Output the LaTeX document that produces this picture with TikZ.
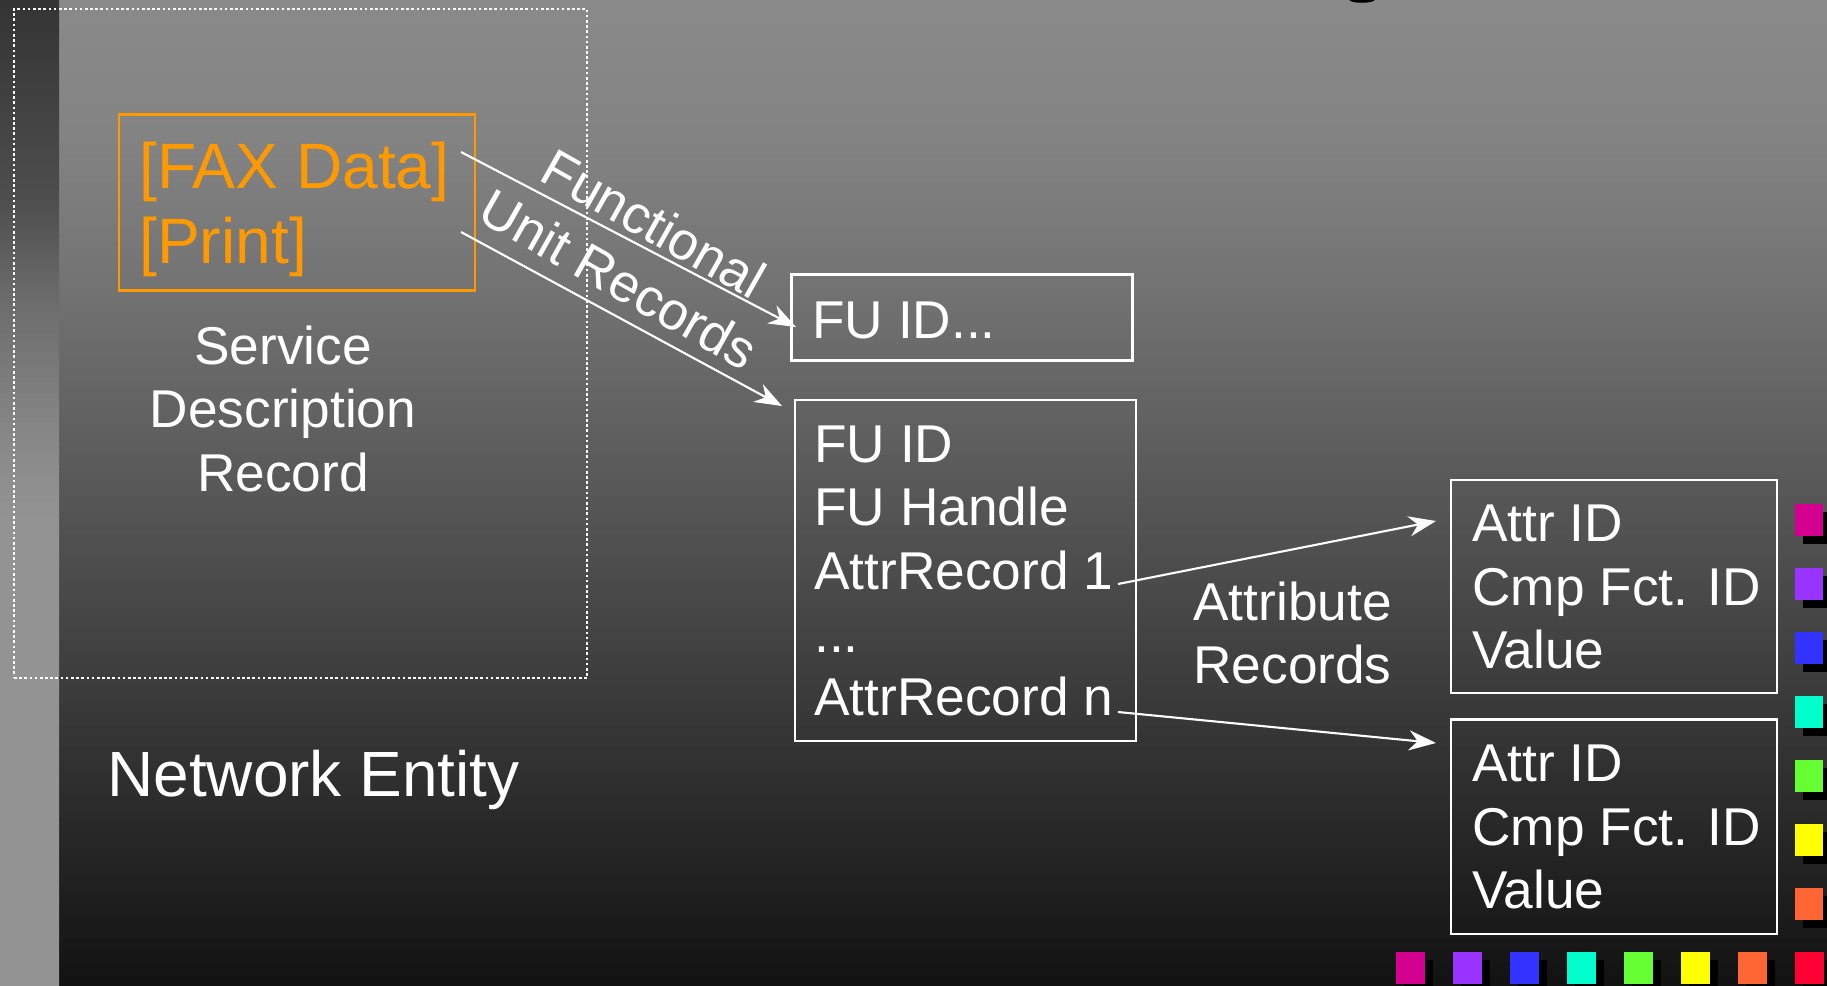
\documentclass[tikz,border=0pt]{standalone}
\usepackage{fontspec}
\setmainfont{Liberation Sans}
\usetikzlibrary{arrows.meta,fit}
\definecolor{mA}{RGB}{138,138,138}
\definecolor{mB}{RGB}{130,130,130}
\definecolor{mC}{RGB}{113,113,113}
\definecolor{mD}{RGB}{93,93,93}
\definecolor{mE}{RGB}{72,72,72}
\definecolor{mF}{RGB}{18,18,18}
\definecolor{lA}{RGB}{52,52,52}
\definecolor{lB}{RGB}{78,78,78}
\definecolor{lC}{RGB}{108,108,108}
\definecolor{lE}{RGB}{138,138,138}
\definecolor{lD}{RGB}{147,147,147}
\definecolor{orangec}{HTML}{FF9900}
\definecolor{sqA}{HTML}{D4008F}
\definecolor{sqB}{HTML}{9933FF}
\definecolor{sqC}{HTML}{3333FF}
\definecolor{sqD}{HTML}{00FFCC}
\definecolor{sqE}{HTML}{66FF33}
\definecolor{sqF}{HTML}{FFFF00}
\definecolor{sqG}{HTML}{FF6633}
\definecolor{sqH}{HTML}{FF0033}
\pgfdeclareverticalshading{mainbg}{100bp}{color(0bp)=(mF); color(25bp)=(mF); color(44.54bp)=(mE); color(52.16bp)=(mD); color(59.77bp)=(mC); color(67.39bp)=(mB); color(75bp)=(mA); color(100bp)=(mA)}
\pgfdeclareverticalshading{leftbg}{100bp}{color(0bp)=(lD); color(48.6bp)=(lD); color(52.16bp)=(lE); color(59.77bp)=(lC); color(64.85bp)=(lB); color(75bp)=(lA); color(100bp)=(lA)}
\newcommand\fsn{\fontsize{30.3pt}{36pt}\selectfont}
\newcommand\fso{\fontsize{36.5pt}{42.9pt}\selectfont}
\newcommand\fsbig{\fontsize{36.4pt}{43pt}\selectfont}
\begin{document}
\begin{tikzpicture}[x=0.02cm,y=-0.02cm,
  txt/.style={text=white, inner sep=0pt, font=\fsn},
  box/.style={draw=white, line width=1.2pt, inner sep=0pt},
  arr/.style={draw=white, line width=1.2pt, -{Stealth[length=15.5pt,width=11.5pt]}},
  dotbox/.style={draw=white, line width=1.3pt, dash pattern=on 1.5pt off 1.45pt, inner sep=0pt}]
\clip (0,0) rectangle (1827,985);
\shade[shading=mainbg] (59,0) rectangle (1827,985);
\shade[shading=leftbg] (0,0) rectangle (59,985);
\fill[black] (1362,0) ellipse [x radius=0.25cm, y radius=0.055cm];

% network entity frame
\node[dotbox, fit={(14,9) (587,678)}] (ne) {};
% boxes
\node[draw=orangec, line width=1.2pt, inner sep=0pt, fit={(119,114.5) (475,290.5)}] (sdrbox) {};
\node[box, fit={(791.5,274.5) (1132.5,360.5)}] (fu1) {};
\node[box, fit={(795,400) (1136,741)}] (fu2) {};
\node[box, fit={(1451,480) (1777,693)}] (at1) {};
\node[box, fit={(1451,719.5) (1777,934)}] (at2) {};

% texts
\node[txt, font=\fso, text=orangec, anchor=base west] (fax) at (139,188.3)
  {\begin{tabular}[t]{@{}l@{}}[FAX Data]\\{[Print]}\end{tabular}};
\node[txt, anchor=base] (sdr) at (283,364.5)
  {\begin{tabular}[t]{@{}c@{}}Service\\Description\\Record\end{tabular}};
\node[txt, anchor=base west] (fu1t) at (812,338.3) {FU ID...};
\node[txt, anchor=base west] (fu2t) at (814,462.5)
  {\begin{tabular}[t]{@{}l@{}}FU ID\\FU Handle\\AttrRecord 1\\...\\AttrRecord n\end{tabular}};
\node[txt, anchor=base west] (at1t) at (1472,541.8)
  {\begin{tabular}[t]{@{}l@{}}Attr ID\\Cmp Fct. ID\\Value\end{tabular}};
\node[txt, anchor=base west] (at2t) at (1472,781.8)
  {\begin{tabular}[t]{@{}l@{}}Attr ID\\Cmp Fct. ID\\Value\end{tabular}};
\node[txt, anchor=base] (arl) at (1292.5,620)
  {\begin{tabular}[t]{@{}c@{}}Attribute\\Records\end{tabular}};
\node[txt, font=\fsbig, anchor=base west] (net) at (107,796.7) {Network Entity};
\node[txt, rotate=-29.5] (funct) at (654,223) {Functional};
\node[txt, rotate=-29.5] (unitr) at (619,279) {Unit Records};

% connectors
\coordinate (s1) at (461,152);
\coordinate (e1) at (796,327);
\coordinate (s2) at (461,232);
\coordinate (e2) at (782,406);
\coordinate (s3) at (1118,584);
\coordinate (e3) at (1436,521);
\coordinate (s4) at (1118,712);
\coordinate (e4) at (1436,743);
\draw[arr] (s1) -- (e1);
\draw[arr] (s2) -- (e2);
\draw[arr] (s3) -- (e3);
\draw[arr] (s4) -- (e4);

% colour squares
\foreach \c [count=\i from 0] in {sqA,sqB,sqC,sqD,sqE,sqF,sqG} {
  \fill[black] (1803,512+64*\i) rectangle +(28,32);
  \fill[\c] (1795,504+64*\i) rectangle +(28,32);
}
\foreach \c [count=\i from 0] in {sqA,sqB,sqC,sqD,sqE,sqF,sqG,sqH} {
  \fill[black] (1404+57*\i,960) rectangle +(28.5,32);
  \fill[\c] (1396+57*\i,952) rectangle +(28.5,32);
}
\end{tikzpicture}
\end{document}
